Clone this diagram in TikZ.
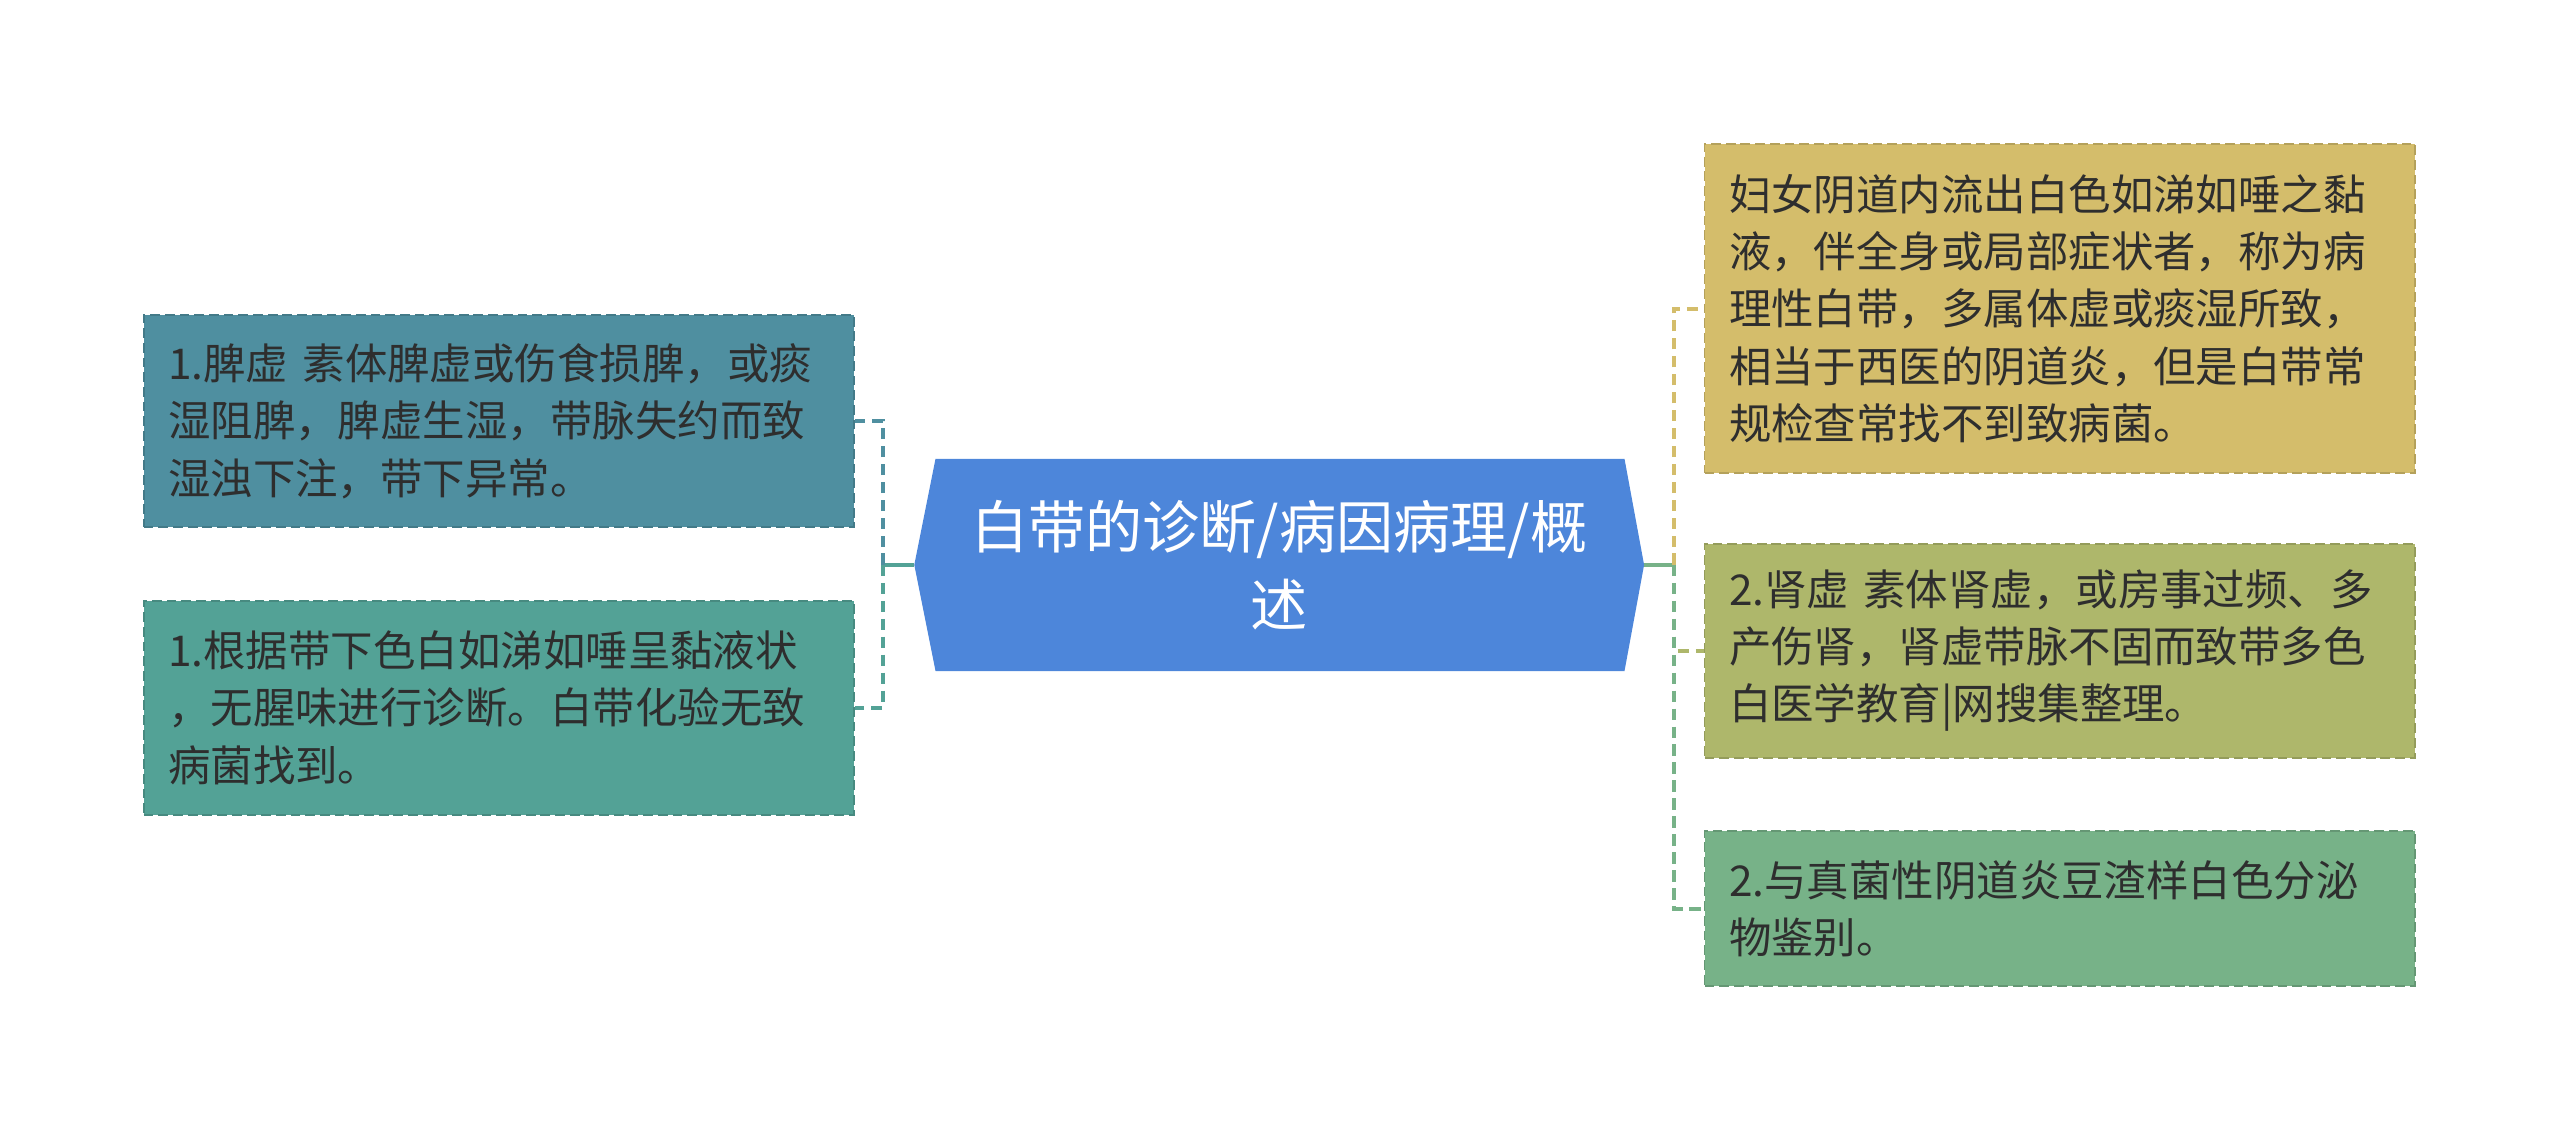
\documentclass[tikz,border=0pt]{standalone}
\usepackage{fontspec}
\usepackage{xcolor}
\usepackage{tikz}
\usetikzlibrary{arrows}
\usetikzlibrary{calc}
\newfontfamily\cjk{Noto Sans CJK SC}
\definecolor{rootblue}{HTML}{4D86DA}
\definecolor{c1}{HTML}{4F8FA0}
\definecolor{c2}{HTML}{53A296}
\definecolor{c3}{HTML}{D4BD6B}
\definecolor{c4}{HTML}{AEB76B}
\definecolor{c5}{HTML}{77B288}
\definecolor{ink}{HTML}{2E2E2E}
\begin{document}
\begin{tikzpicture}[x=1pt,y=-1pt,
	leaf/.style={rectangle,fill=#1,draw=#1!85!black,line width=1.2pt,
		dash pattern=on 6pt off 3pt,text=ink,text width=405pt,align=left,
		inner xsep=15pt,inner ysep=0pt,minimum height=130pt,
		font=\cjk\fontsize{26pt}{35pt}\selectfont},
	link/.style={draw=#1,line width=2.4pt},
	dlink/.style={draw=#1,line width=2.4pt,dash pattern=on 7pt off 4pt},
	rootnode/.style={rectangle,minimum width=447pt,minimum height=130pt,
		text=white,align=center,inner sep=0pt,
		font=\cjk\fontsize{35pt}{48pt}\selectfont,
		path picture={\fill[rootblue]
			([xshift=13pt]path picture bounding box.north west) --
			([xshift=-12pt]path picture bounding box.north east) --
			(path picture bounding box.east) --
			([xshift=-12pt]path picture bounding box.south east) --
			([xshift=13pt]path picture bounding box.south west) --
			(path picture bounding box.west) -- cycle;}}]
	 \useasboundingbox (0,0) rectangle (1568,693);
	 \node (root) [rootnode] at (783.5,346) {白带的诊断/病因病理/概\\述};
	 % left side
	 \node (pi) [leaf=c1] at (305.5,258) {1.脾虚 素体脾虚或伤食损脾，或痰\\湿阻脾，脾虚生湿，带脉失约而致\\湿浊下注，带下异常。};
	 \node (zhen) [leaf=c2,minimum height=131pt] at (305.5,433.5) {1.根据带下色白如涕如唾呈黏液状\\，无腥味进行诊断。白带化验无致\\病菌找到。};
	 % right side
	 \node (gai) [leaf=c3,minimum height=202pt] at (1261.5,189) {妇女阴道内流出白色如涕如唾之黏\\液，伴全身或局部症状者，称为病\\理性白带，多属体虚或痰湿所致，\\相当于西医的阴道炎，但是白带常\\规检查常找不到致病菌。};
	 \node (shen) [leaf=c4,minimum height=131pt] at (1261.5,398.5) {2.肾虚 素体肾虚，或房事过频、多\\产伤肾，肾虚带脉不固而致带多色\\白医学教育|网搜集整理。};
	 \node (jian) [leaf=c5,minimum height=95pt] at (1261.5,556.5) {2.与真菌性阴道炎豆渣样白色分泌\\物鉴别。};
	 % connectors
	 \coordinate (lj) at ($(root.west)+(-19,0)$);
	 \coordinate (rj) at ($(root.east)+(18,0)$);
	 \draw[link=c2] (root.west) -- (lj);
	 \draw[dlink=c1] (lj) |- (pi.east);
	 \draw[dlink=c2] (lj) |- (zhen.east);
	 \draw[link=c5] (root.east) -- (rj);
	 \draw[dlink=c3] (rj) |- (gai.west);
	 \draw[dlink=c4] (rj) |- (shen.west);
	 \draw[dlink=c5] (rj) |- (jian.west);
\end{tikzpicture}
\end{document}
